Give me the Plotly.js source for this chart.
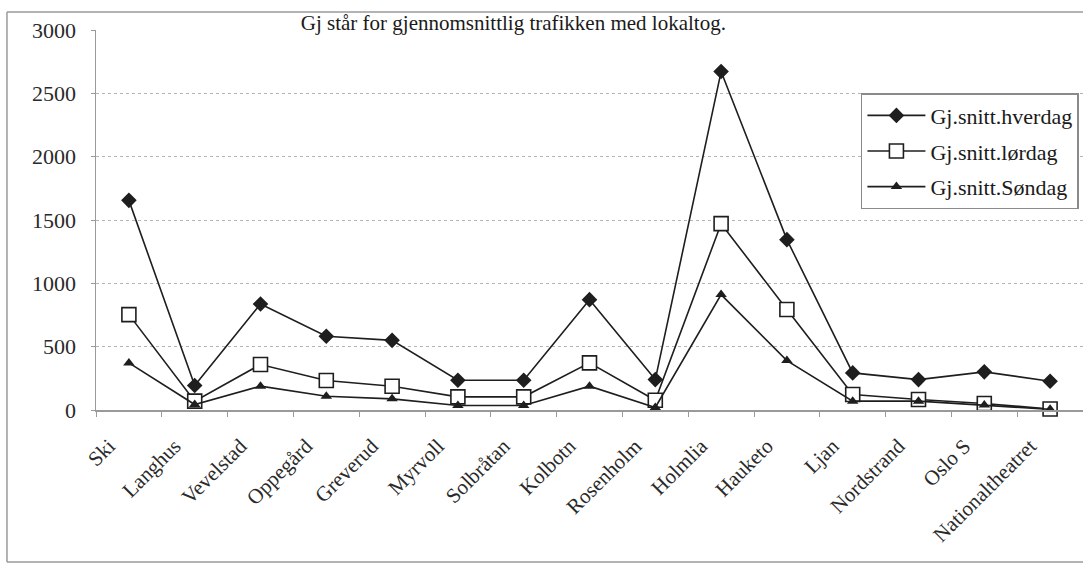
<!DOCTYPE html>
<html>
<head>
<meta charset="utf-8">
<script src="https://cdn.plot.ly/plotly-3.0.1.min.js"></script>
<style>
  html, body { margin: 0; padding: 0; background: #fff; }
  #chart { width: 1083px; height: 566px; }
</style>
</head>
<body>
<div id="chart"></div>
<script>
// Stasjoner langs linjen
const stasjoner = ["Ski", "Langhus", "Vevelstad", "Oppegård", "Greverud", "Myrvoll",
  "Solbråtan", "Kolbotn", "Rosenholm", "Holmlia", "Hauketo", "Ljan", "Nordstrand",
  "Oslo S", "Nationaltheatret"];

// Gjennomsnittlig antall reisende per dagtype
const hverdag = [1655, 193, 837, 582, 550, 235, 235, 871, 240, 2672, 1345, 293, 240, 301, 227];
const lordag  = [753, 70, 359, 233, 188, 104, 104, 372, 77, 1471, 793, 122, 83, 51, 8];
const sondag  = [372, 43, 188, 109, 88, 35, 35, 188, 20, 911, 390, 70, 70, 40, 5];

const yTicks = [0, 500, 1000, 1500, 2000, 2500, 3000];

const serif = "Liberation Serif";
const ink = "#1e1e1e";

function serie(navn, verdier, symbol, size, fill, gruppe) {
  return {
    type: "scatter",
    mode: "lines+markers",
    name: navn,
    x: stasjoner,
    y: verdier,
    legendgroup: gruppe,
    line: { color: ink, width: 1.6 },
    marker: {
      symbol: symbol,
      size: size,
      color: fill,
      line: { color: ink, width: fill === "#ffffff" ? 1.6 : 0 }
    },
    cliponaxis: false
  };
}

const data = [
  serie("Gj.snitt.hverdag", hverdag, "diamond", 12, ink, "a"),
  serie("Gj.snitt.lørdag", lordag, "square", 14, "#ffffff", "b"),
  serie("Gj.snitt.Søndag", sondag, "triangle-up", 10, ink, "c")
];

// Ramme rundt hele diagrammet (venstre, topp, bunn)
const frameLine = { color: "#9a9a9a", width: 1.5 };
const shapes = [
  { type: "line", xref: "paper", yref: "paper", x0: -0.0902, x1: -0.0902, y0: -0.4, y1: 1.0473, line: frameLine },
  { type: "line", xref: "paper", yref: "paper", x0: -0.0902, x1: 1.0, y0: 1.0473, y1: 1.0473, line: frameLine },
  { type: "line", xref: "paper", yref: "paper", x0: -0.0902, x1: 1.0, y0: -0.4, y1: -0.4, line: frameLine }
];

const layout = {
  width: 1083,
  height: 566,
  margin: { l: 96, r: 0, t: 30, b: 156 },
  paper_bgcolor: "#ffffff",
  plot_bgcolor: "#ffffff",
  font: { family: serif, color: "#2a2a2a", size: 16 },
  showlegend: true,
  title: {
    text: "Gj står for gjennomsnittlig trafikken med lokaltog.",
    font: { family: serif, size: 21, color: "#1a1a1a" },
    x: 0.474, xanchor: "center",
    y: 0.96, yanchor: "middle"
  },
  xaxis: {
    type: "category",
    range: [-0.5, 14.5],
    tickangle: -45,
    tickfont: { family: serif, size: 21, color: "#2a2a2a" },
    ticks: "outside",
    tickson: "boundaries",
    ticklen: 5,
    tickcolor: "#9a9a9a",
    showline: true,
    linecolor: "#9a9a9a",
    linewidth: 1.5,
    showgrid: false,
    zeroline: false,
    ticklabelstandoff: 14,
    ticklabelshift: -20
  },
  yaxis: {
    range: [0, 3000],
    tickvals: yTicks,
    ticktext: yTicks.map(String),
    tickfont: { family: serif, size: 22, color: "#2a2a2a" },
    ticks: "outside",
    ticklen: 4,
    tickcolor: "#9a9a9a",
    showline: true,
    linecolor: "#9a9a9a",
    linewidth: 1.5,
    showgrid: true,
    gridcolor: "#b5b5b5",
    griddash: "dot",
    gridwidth: 1,
    zeroline: false,
    ticklabelstandoff: 10
  },
  legend: {
    x: 0.775, xanchor: "left",
    y: 0.834, yanchor: "top",
    bgcolor: "#ffffff",
    bordercolor: "#8a8a8a",
    borderwidth: 1.5,
    font: { family: serif, size: 22, color: "#1a1a1a" },
    traceorder: "grouped",
    tracegroupgap: 4,
    itemwidth: 58
  },
  shapes: shapes
};

Plotly.newPlot("chart", data, layout, { displayModeBar: false, staticPlot: true });
</script>
</body>
</html>
